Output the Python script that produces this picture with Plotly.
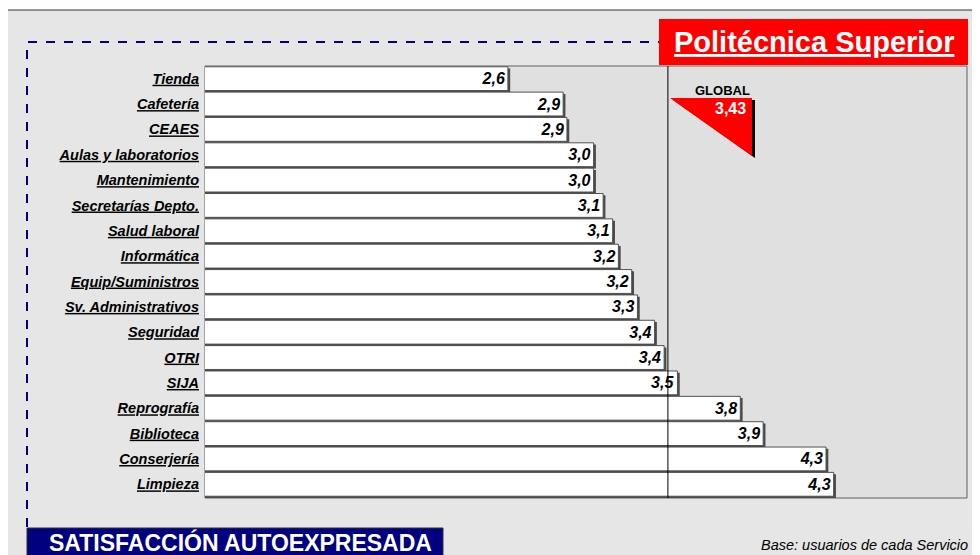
import plotly.graph_objects as go

categories = ["Tienda", "Cafetería", "CEAES", "Aulas y laboratorios", "Mantenimiento",
              "Secretarías Depto.", "Salud laboral", "Informática", "Equip/Suministros",
              "Sv. Administrativos", "Seguridad", "OTRI", "SIJA", "Reprografía",
              "Biblioteca", "Conserjería", "Limpieza"]
values = [2.59, 2.88, 2.90, 3.04, 3.04, 3.09, 3.14, 3.17, 3.24, 3.27, 3.36, 3.41, 3.48,
          3.81, 3.93, 4.26, 4.30]
global_value = 3.43
global_label = "3,43"
title_text = "Politécnica Superior"
footer_left = "SATISFACCIÓN AUTOEXPRESADA"
footer_right = "Base: usuarios de cada Servicio"
x_range = [1, 5]

FONT = "Liberation Sans, Arial, sans-serif"
OFF = 8  # page body margin
W, H = 980 - 2 * OFF, 555 - OFF
# plot area in page pixels
L, R, T, B = 205, 967, 66, 498


def px(x):
    return (x - L) / (R - L)


def py(y):
    return (B - y) / (B - T)


texts = ["<b><i>" + f"{v:.1f}".replace(".", ",") + "</i></b>" for v in values]
ticktext = ["<b><i><u>" + c + "</u></i></b>" for c in categories]

fig = go.Figure()
# drop shadow of bars
fig.add_trace(go.Bar(
    y=categories, x=[v + 0.012 for v in values], orientation="h",
    width=0.94, offset=-0.40,
    marker=dict(color="#4a4a4a", line=dict(width=0)),
    hoverinfo="skip", showlegend=False,
))
fig.add_trace(go.Bar(
    y=categories, x=values, orientation="h",
    width=0.94, offset=-0.47,
    marker=dict(color="white", line=dict(color="#505050", width=1)),
    text=texts, textposition="inside", insidetextanchor="end",
    textfont=dict(family=FONT, size=16, color="black"),
    constraintext="none", textangle=0,
    showlegend=False,
))

shapes = []
# outer frame
shapes.append(dict(type="rect", xref="paper", yref="paper", layer="below",
                   x0=px(7), x1=px(1010), y0=py(10), y1=py(600),
                   fillcolor="#e6e6e6", line=dict(color="#333333", width=1)))
# plot area
shapes.append(dict(type="rect", xref="paper", yref="paper", layer="below",
                   x0=0, x1=1, y0=0, y1=1,
                   fillcolor="#e0e0e0", line=dict(color="#606060", width=1)))
# dashed navy frame
shapes.append(dict(type="path", xref="paper", yref="paper", layer="below",
                   path=f"M {px(27)},{py(527)} L {px(27)},{py(42)} L {px(659)},{py(42)}",
                   line=dict(color="#000080", width=2, dash="dash")))
# global reference line
shapes.append(dict(type="line", xref="x", yref="paper", layer="above",
                   x0=global_value, x1=global_value, y0=0, y1=1,
                   line=dict(color="black", width=1)))
# title box
shapes.append(dict(type="rect", xref="paper", yref="paper", layer="above",
                   x0=px(659), x1=px(968), y0=py(19), y1=py(65),
                   fillcolor="#ff0000", line=dict(width=0)))
# global triangle shadow + triangle
shapes.append(dict(type="path", xref="paper", yref="paper", layer="above",
                   path=f"M {px(673)},{py(100)} L {px(755)},{py(100)} L {px(755)},{py(158)} Z",
                   fillcolor="black", line=dict(width=0)))
shapes.append(dict(type="path", xref="paper", yref="paper", layer="above",
                   path=f"M {px(670)},{py(98)} L {px(752)},{py(98)} L {px(752)},{py(156)} Z",
                   fillcolor="#ff0000", line=dict(width=0)))
# footer box
shapes.append(dict(type="rect", xref="paper", yref="paper", layer="above",
                   x0=px(27), x1=px(443), y0=py(528), y1=py(575),
                   fillcolor="#000080", line=dict(color="#333333", width=1)))

annotations = [
    dict(x=px(813.5), y=py(42), xref="paper", yref="paper", showarrow=False,
         text="<b><u>" + title_text + "</u></b>",
         font=dict(family=FONT, size=29, color="white"), xanchor="center", yanchor="middle"),
    dict(x=px(722), y=py(90), xref="paper", yref="paper", showarrow=False,
         text="<b>GLOBAL</b>", font=dict(family=FONT, size=13, color="black"),
         xanchor="center", yanchor="middle"),
    dict(x=px(748), y=py(108), xref="paper", yref="paper", showarrow=False,
         text="<b>" + global_label + "</b>", font=dict(family=FONT, size=16, color="white"),
         xanchor="right", yanchor="middle"),
    dict(x=px(240), y=py(542), xref="paper", yref="paper", showarrow=False,
         text="<b>" + footer_left + "</b>", font=dict(family=FONT, size=23, color="white"),
         xanchor="center", yanchor="middle"),
    dict(x=px(970), y=py(545), xref="paper", yref="paper", showarrow=False,
         text="<i>" + footer_right + "</i>", font=dict(family=FONT, size=14.5, color="black"),
         xanchor="right", yanchor="middle"),
]

fig.update_layout(
    width=W, height=H,
    margin=dict(l=L - OFF, r=W + OFF - R, t=T - OFF, b=H + OFF - B, pad=0),
    paper_bgcolor="white", plot_bgcolor="rgba(0,0,0,0)",
    barmode="overlay",
    font=dict(family=FONT, color="black"),
    xaxis=dict(range=x_range, visible=False, showgrid=False, zeroline=False, fixedrange=True),
    yaxis=dict(type="category", categoryorder="array", categoryarray=categories,
               tickvals=categories, ticktext=ticktext, autorange="reversed",
               showgrid=False, zeroline=False, showline=False, ticks="",
               ticklabelstandoff=5, tickfont=dict(family=FONT, size=14.5, color="black"),
               fixedrange=True),
    shapes=shapes, annotations=annotations,
)

fig.write_html("out.html")
